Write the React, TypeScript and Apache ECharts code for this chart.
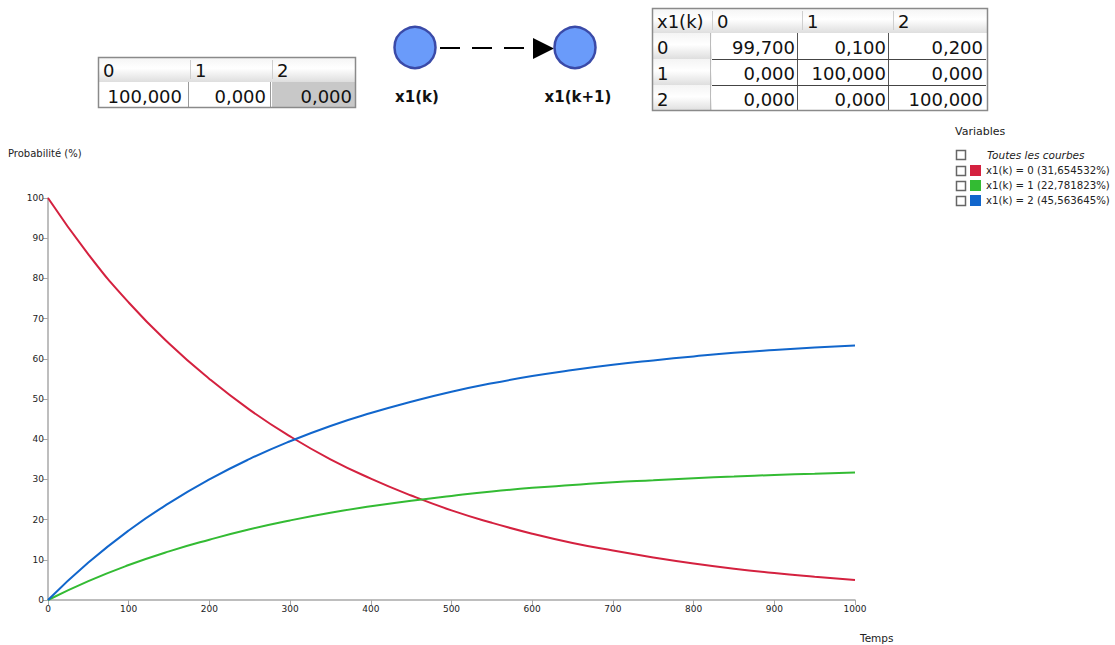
import React, { useEffect, useRef } from "react";
import * as echarts from "echarts";

const steps = [0, 50, 100, 150, 200, 250, 300, 350, 400, 450, 500, 550, 600, 650, 700, 750, 800, 850, 900, 950, 1000];
const redVals = [100, 86, 74, 63.8, 55, 47.3, 40.7, 35, 30.2, 26, 22.3, 19.2, 16.5, 14.2, 12.3, 10.6, 9.1, 7.8, 6.7, 5.8, 5.0];
const greenVals = [0, 4.7, 8.7, 12.1, 15, 17.6, 19.8, 21.7, 23.3, 24.7, 25.9, 27, 27.9, 28.6, 29.3, 29.8, 30.3, 30.7, 31.1, 31.4, 31.7];
const blueVals = [0, 9.3, 17.3, 24.1, 30, 35.1, 39.5, 43.3, 46.5, 49.3, 51.8, 53.9, 55.7, 57.2, 58.5, 59.6, 60.6, 61.5, 62.2, 62.8, 63.3];

const seriesNames = ["x1(k) = 0 (31,654532%)", "x1(k) = 1 (22,781823%)", "x1(k) = 2 (45,563645%)"];
const seriesColors = ["#d4213f", "#33bb33", "#1166cc"];

const initHeaders = ["0", "1", "2"];
const initValues = ["100,000", "0,000", "0,000"];

const transHeaders = ["x1(k)", "0", "1", "2"];
const transRowLabels = ["0", "1", "2"];
const transValues = [
  ["99,700", "0,100", "0,200"],
  ["0,000", "100,000", "0,000"],
  ["0,000", "0,000", "100,000"],
];

const FONT = "DejaVu Sans";

const headerGrad = () =>
  new echarts.graphic.LinearGradient(0, 0, 0, 1, [
    { offset: 0, color: "#f4f4f4" },
    { offset: 0.45, color: "#ffffff" },
    { offset: 1, color: "#dedede" },
  ]);

function buildGraphics() {
  const g: any[] = [];
  // ---- initial vector table
  const t1x = [98, 190, 272, 356];
  const t1y = [57, 82, 108];
  const t1TextEnd = [182, 266, 352];
  for (let c = 0; c < 3; c++) {
    g.push({ type: "rect", shape: { x: t1x[c], y: t1y[0], width: t1x[c + 1] - t1x[c], height: t1y[1] - t1y[0] }, style: { fill: headerGrad() } });
    g.push({ type: "rect", shape: { x: t1x[c], y: t1y[1], width: t1x[c + 1] - t1x[c], height: t1y[2] - t1y[1] }, style: { fill: c === 2 ? "#c8c8c8" : "#ffffff" } });
    g.push({ type: "text", x: t1x[c] + 5, y: (t1y[0] + t1y[1]) / 2 + 1, style: { text: initHeaders[c], font: `18px "${FONT}"`, fill: "#111", verticalAlign: "middle", align: "left" } });
    g.push({ type: "text", x: t1TextEnd[c], y: (t1y[1] + t1y[2]) / 2 + 1, style: { text: initValues[c], font: `18px "${FONT}"`, fill: "#111", verticalAlign: "middle", align: "right" } });
  }
  for (let c = 1; c < 3; c++) {
    g.push({ type: "line", shape: { x1: t1x[c] + 0.5, y1: t1y[0] + 3, x2: t1x[c] + 0.5, y2: t1y[1] - 3 }, style: { stroke: "#cfcfcf", lineWidth: 1 } });
    g.push({ type: "line", shape: { x1: t1x[c] - 1.5, y1: t1y[1], x2: t1x[c] - 1.5, y2: t1y[2] }, style: { stroke: "#9a9a9a", lineWidth: 1 } });
  }
  g.push({ type: "rect", shape: { x: t1x[0] + 0.5, y: t1y[0] + 0.5, width: t1x[3] - t1x[0] - 1, height: t1y[2] - t1y[0] - 1 }, style: { fill: "none", stroke: "#8a8a8a", lineWidth: 1.5 } });

  // ---- graph nodes
  g.push({ type: "line", shape: { x1: 440, y1: 48, x2: 533, y2: 48 }, style: { stroke: "#000", lineWidth: 2, lineDash: [20, 12] } });
  g.push({ type: "polygon", shape: { points: [[533, 38], [554, 48.5], [533, 59]] }, style: { fill: "#000" } });
  g.push({ type: "circle", shape: { cx: 415, cy: 47.5, r: 20.5 }, style: { fill: "#6a9bfa", stroke: "#3a4aa8", lineWidth: 2.5 } });
  g.push({ type: "circle", shape: { cx: 575, cy: 47.5, r: 20.5 }, style: { fill: "#6a9bfa", stroke: "#3a4aa8", lineWidth: 2.5 } });
  g.push({ type: "text", x: 417, y: 97, style: { text: "x1(k)", font: `bold 15px "${FONT}"`, fill: "#111", align: "center", verticalAlign: "middle" } });
  g.push({ type: "text", x: 578, y: 97, style: { text: "x1(k+1)", font: `bold 15px "${FONT}"`, fill: "#111", align: "center", verticalAlign: "middle" } });

  // ---- transition table
  const tx = [652, 712, 802, 893, 988];
  const bodyLines = [797, 888];
  const textEnd = [795, 886, 983];
  const ty = [8, 33, 59, 85, 111];
  for (let c = 0; c < 4; c++) {
    g.push({ type: "rect", shape: { x: tx[c], y: ty[0], width: tx[c + 1] - tx[c], height: ty[1] - ty[0] }, style: { fill: headerGrad() } });
  }
  for (let r = 0; r < 3; r++) {
    g.push({ type: "rect", shape: { x: tx[0], y: ty[r + 1], width: tx[1] - tx[0], height: ty[r + 2] - ty[r + 1] }, style: { fill: headerGrad() } });
    g.push({ type: "rect", shape: { x: tx[1], y: ty[r + 1], width: tx[4] - tx[1], height: ty[r + 2] - ty[r + 1] }, style: { fill: "#ffffff" } });
  }
  for (let c = 1; c < 4; c++) {
    g.push({ type: "line", shape: { x1: tx[c] + 0.5, y1: ty[0] + 3, x2: tx[c] + 0.5, y2: ty[1] - 3 }, style: { stroke: "#cfcfcf", lineWidth: 1 } });
  }
  g.push({ type: "line", shape: { x1: tx[1] - 1.5, y1: ty[1], x2: tx[1] - 1.5, y2: ty[4] }, style: { stroke: "#bbbbbb", lineWidth: 1 } });
  bodyLines.forEach((bx) => {
    g.push({ type: "line", shape: { x1: bx + 0.5, y1: ty[1], x2: bx + 0.5, y2: ty[4] }, style: { stroke: "#555", lineWidth: 1 } });
  });
  for (let r = 2; r < 4; r++) {
    g.push({ type: "line", shape: { x1: tx[1], y1: ty[r] + 0.5, x2: tx[4] - 2, y2: ty[r] + 0.5 }, style: { stroke: "#444", lineWidth: 1 } });
  }
  for (let c = 0; c < 4; c++) {
    g.push({ type: "text", x: tx[c] + 5, y: (ty[0] + ty[1]) / 2 + 1, style: { text: transHeaders[c], font: `18px "${FONT}"`, fill: "#111", align: "left", verticalAlign: "middle" } });
  }
  for (let r = 0; r < 3; r++) {
    g.push({ type: "text", x: tx[0] + 5, y: (ty[r + 1] + ty[r + 2]) / 2 + 1, style: { text: transRowLabels[r], font: `18px "${FONT}"`, fill: "#111", align: "left", verticalAlign: "middle" } });
    for (let c = 0; c < 3; c++) {
      g.push({ type: "text", x: textEnd[c], y: (ty[r + 1] + ty[r + 2]) / 2 + 1, style: { text: transValues[r][c], font: `18px "${FONT}"`, fill: "#111", align: "right", verticalAlign: "middle" } });
    }
  }
  g.push({ type: "rect", shape: { x: tx[0] + 0.5, y: ty[0] + 0.5, width: tx[4] - tx[0] - 1, height: ty[4] - ty[0] - 1 }, style: { fill: "none", stroke: "#8a8a8a", lineWidth: 1.5 } });

  // ---- legend extras
  g.push({ type: "text", x: 955, y: 131, style: { text: "Variables", font: `11px "${FONT}"`, fill: "#222", align: "left", verticalAlign: "middle" } });
  const boxY = [155, 171, 186, 201];
  boxY.forEach((cy) => {
    g.push({ type: "rect", shape: { x: 956.5, y: cy - 4.5, width: 9, height: 9 }, style: { fill: "#fff", stroke: "#666", lineWidth: 1.5 } });
  });
  g.push({ type: "text", x: 987, y: 155, style: { text: "Toutes les courbes", font: `italic 10.5px "${FONT}"`, fill: "#222", align: "left", verticalAlign: "middle" } });

  // ---- axis names
  g.push({ type: "text", x: 8, y: 153, style: { text: "Probabilité (%)", font: `10px "${FONT}"`, fill: "#222", align: "left", verticalAlign: "middle" } });
  g.push({ type: "text", x: 860, y: 638, style: { text: "Temps", font: `10.5px "${FONT}"`, fill: "#222", align: "left", verticalAlign: "middle" } });
  return g;
}

export default function App() {
  const ref = useRef<HTMLDivElement>(null);
  useEffect(() => {
    if (!ref.current) return;
    const chart = echarts.init(ref.current, undefined, { renderer: "svg" });
    const vals = [redVals, greenVals, blueVals];
    chart.setOption({
      animation: false,
      backgroundColor: "#ffffff",
      grid: { left: 48, top: 198, width: 807, height: 402, containLabel: false },
      legend: {
        orient: "vertical",
        left: 970,
        top: 165,
        padding: 0,
        itemWidth: 11,
        itemHeight: 11,
        itemGap: 4,
        icon: "rect",
        selectedMode: false,
        data: seriesNames,
        textStyle: { fontFamily: FONT, fontSize: 10.2, color: "#222", lineHeight: 11 },
      },
      xAxis: {
        type: "value",
        min: 0,
        max: 1000,
        interval: 100,
        axisLine: { lineStyle: { color: "#a8a8a8", width: 1.5 } },
        axisTick: { show: true, length: 5, lineStyle: { color: "#a8a8a8" } },
        axisLabel: { fontFamily: FONT, fontSize: 9, color: "#222", margin: 4, formatter: (v: number) => String(v) },
        splitLine: { show: false },
      },
      yAxis: {
        type: "value",
        min: 0,
        max: 100,
        interval: 10,
        axisLine: { show: true, lineStyle: { color: "#a8a8a8", width: 1.5 } },
        axisTick: { show: true, length: 5, lineStyle: { color: "#a8a8a8" } },
        axisLabel: { fontFamily: FONT, fontSize: 9, color: "#222", margin: 4, formatter: (v: number) => String(v) },
        splitLine: { show: false },
      },
      series: seriesNames.map((name, i) => ({
        name,
        type: "line",
        smooth: true,
        symbol: "none",
        lineStyle: { width: 2, color: seriesColors[i] },
        itemStyle: { color: seriesColors[i] },
        data: steps.map((s, j) => [s, vals[i][j]]),
      })),
      graphic: buildGraphics(),
    });
    return () => chart.dispose();
  }, []);
  return <div ref={ref} style={{ position: "fixed", left: 0, top: 0, width: 1115, height: 645 }} />;
}
